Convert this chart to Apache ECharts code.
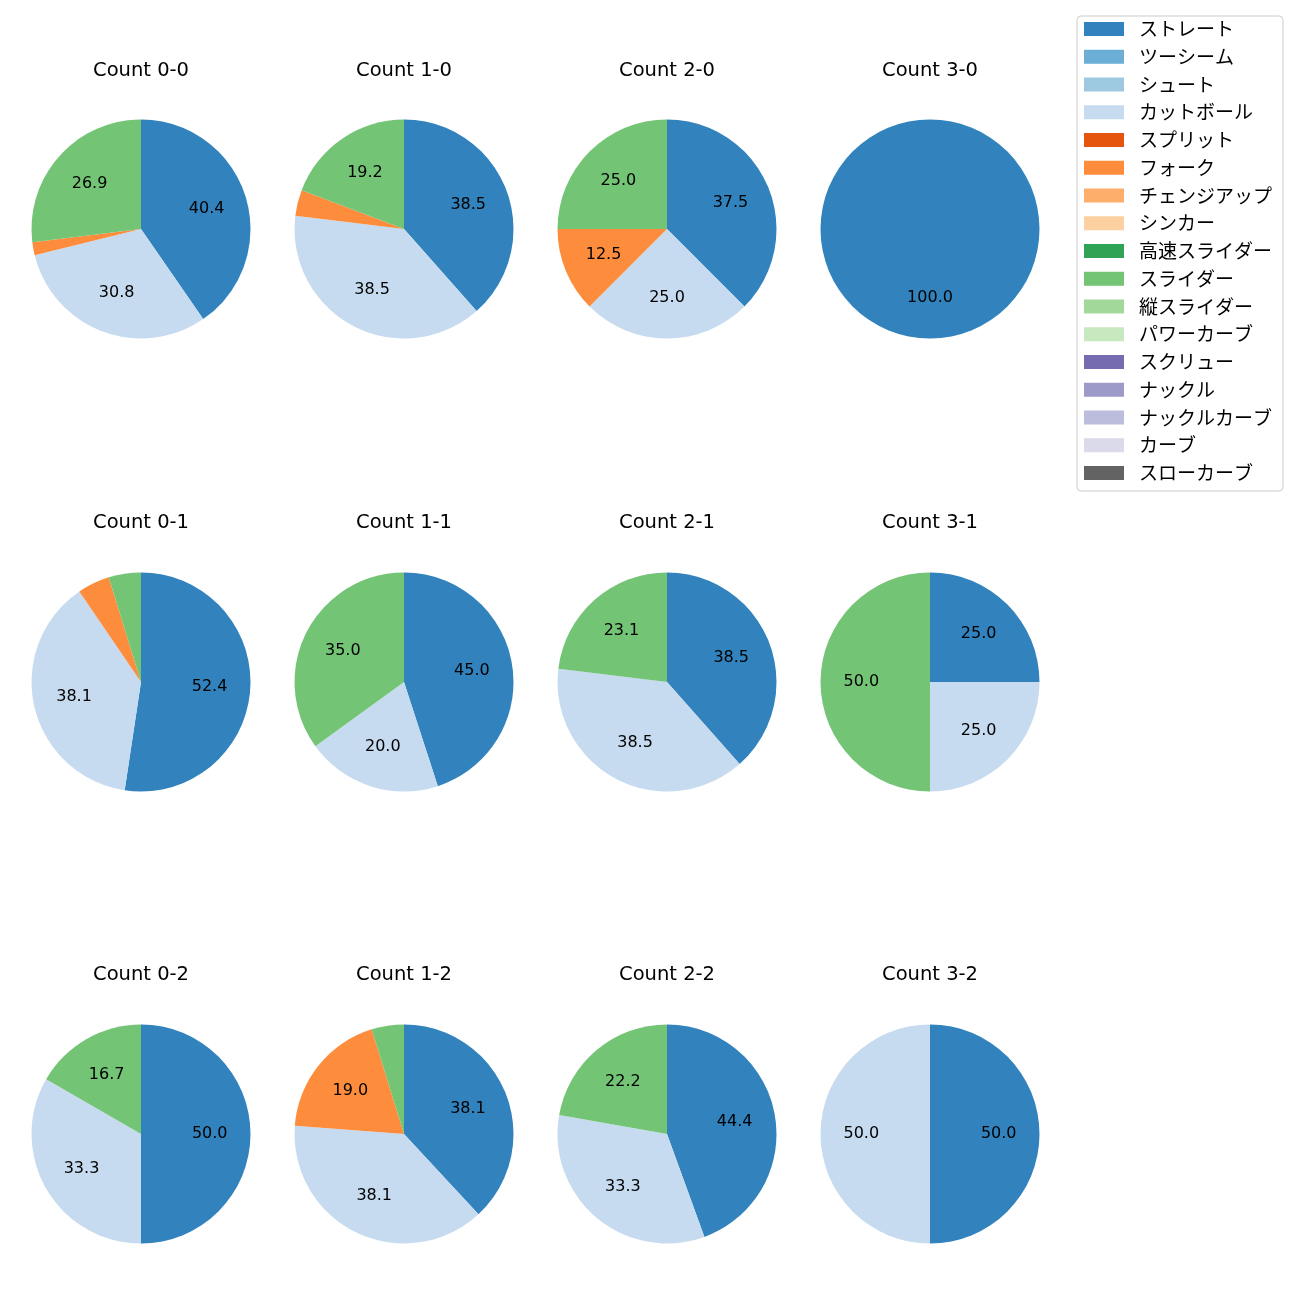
<!DOCTYPE html>
<html>
<head>
<meta charset="utf-8">
<script src="https://cdn.jsdelivr.net/npm/echarts@6/dist/echarts.min.js"></script>
<style>
html,body{margin:0;padding:0;background:#fff;}
#chart{width:1300px;height:1300px;}
</style>
</head>
<body>
<div id="chart"></div>
<script>
// ---- data ----
const pitchTypes = ['ストレート','ツーシーム','シュート','カットボール','スプリット','フォーク','チェンジアップ','シンカー','高速スライダー','スライダー','縦スライダー','パワーカーブ','スクリュー','ナックル','ナックルカーブ','カーブ','スローカーブ'];
const pitchColors = ['#3182bd','#6baed6','#9ecae1','#c6dbef','#e6550d','#fd8d3c','#fdae6b','#fdd0a2','#31a354','#74c476','#a1d99b','#c7e9c0','#756bb1','#9e9ac8','#bcbddc','#dadaeb','#636363'];
const panelTitles = ['Count 0-0','Count 1-0','Count 2-0','Count 3-0','Count 0-1','Count 1-1','Count 2-1','Count 3-1','Count 0-2','Count 1-2','Count 2-2','Count 3-2'];
// pitch counts per panel (same order as panelTitles), inferred from the printed shares
const straight = [21, 10, 3, 1, 11, 9, 5, 1, 3, 8, 4, 1];
const cutter   = [16, 10, 2, 0,  8, 4, 5, 1, 2, 8, 3, 1];
const fork     = [ 1,  1, 1, 0,  1, 0, 0, 0, 0, 4, 0, 0];
const slider   = [14,  5, 2, 0,  1, 7, 3, 2, 1, 1, 2, 0];

const seriesByType = {'ストレート': straight, 'カットボール': cutter, 'フォーク': fork, 'スライダー': slider};

// ---- layout ----
const colX = [141, 404, 667, 930];
const rowY = [229, 682, 1134];
const titleY = [71, 523, 975];
const R = 109.5;
const CJK = '"Noto Sans CJK JP", "Noto Sans", sans-serif';
const LATIN = '"DejaVu Sans", sans-serif';

const series = [];
// hidden series carrying every pitch type so that the legend lists all of them
series.push({
  type: 'pie', center: [-500, -500], radius: 0, silent: true,
  stillShowZeroSum: false, label: {show: false},
  data: pitchTypes.map((n, i) => ({name: n, value: 0, itemStyle: {color: pitchColors[i]}}))
});

const graphics = [];
panelTitles.forEach((t, p) => {
  const cx = colX[p % 4], cy = rowY[Math.floor(p / 4)];
  const data = [];
  pitchTypes.forEach((n, i) => {
    const arr = seriesByType[n];
    if (arr && arr[p] > 0) data.push({name: n, value: arr[p], itemStyle: {color: pitchColors[i]}});
  });
  const total = data.reduce((s, d) => s + d.value, 0);
  series.push({
    type: 'pie', center: [cx, cy], radius: [0, R], startAngle: 90, clockwise: true,
    silent: true, minAngle: 0, avoidLabelOverlap: false,
    label: {show: false}, labelLine: {show: false},
    itemStyle: {borderWidth: 0},
    data: data
  });
  // label overlay: inner radius chosen so labels sit at 0.6 R
  series.push({
    type: 'pie', center: [cx, cy], radius: [0.2 * R, R], startAngle: 90, clockwise: true,
    silent: true, avoidLabelOverlap: false,
    itemStyle: {color: 'rgba(0,0,0,0)', borderWidth: 0},
    labelLine: {show: false},
    label: {
      show: true, position: 'inside', color: '#000', fontSize: 16, fontFamily: LATIN,
      formatter: function (prm) {
        const pct = prm.value / total * 100;
        return pct >= 5 ? pct.toFixed(1) : '';
      }
    },
    data: data.map(d => ({name: d.name, value: d.value}))
  });
  graphics.push({
    type: 'text', x: cx, y: titleY[Math.floor(p / 4)],
    style: {text: t, fontSize: 19.5, fontFamily: LATIN, fill: '#000', textAlign: 'center', textVerticalAlign: 'middle'}
  });
});

const chart = echarts.init(document.getElementById('chart'), null, {renderer: 'canvas'});
chart.setOption({
  animation: false,
  backgroundColor: '#ffffff',
  legend: {
    orient: 'vertical', left: 1077, top: 16,
    data: pitchTypes,
    icon: 'rect', itemWidth: 40, itemHeight: 14, itemGap: 7.75,
    padding: [3, 11, 8, 7],
    borderColor: '#cccccc', borderWidth: 1, borderRadius: 4,
    backgroundColor: 'rgba(255,255,255,0.8)',
    selectedMode: false,
    textStyle: {fontSize: 19, fontFamily: CJK, color: '#000', lineHeight: 20, padding: [0, 0, 0, 10]}
  },
  graphic: graphics,
  series: series
});
</script>
</body>
</html>
